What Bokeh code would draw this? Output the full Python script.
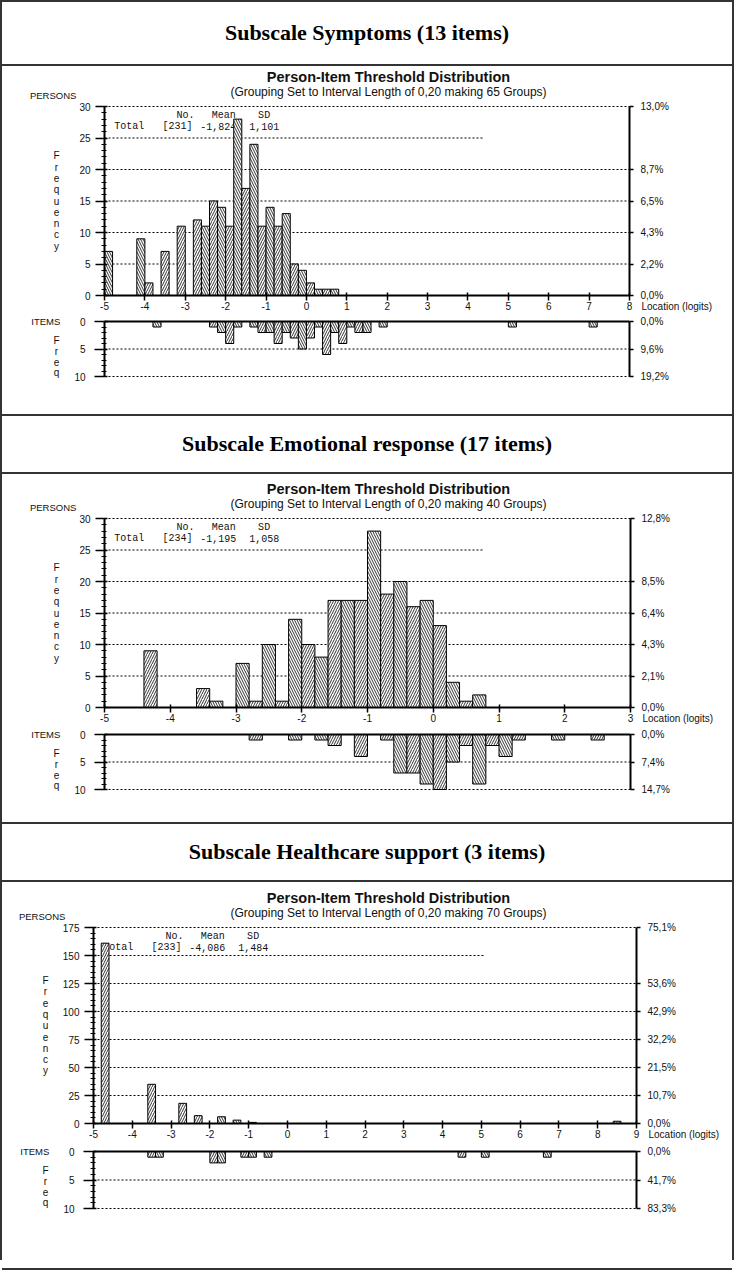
from bokeh.plotting import figure
from bokeh.models import Range1d, LinearAxis, FixedTicker, SingleIntervalTicker, Label, ColumnDataSource, Div
from bokeh.layouts import column, row
from bokeh.core.properties import value, field
from bokeh.embed import file_html
from bokeh.resources import INLINE

# ---------------- data ----------------
BIN_WIDTH = 0.2
item_ticks = [0, 5, 10]
item_grid = [5, 10]

# Subscale Symptoms
sym_title = "Subscale Symptoms (13 items)"
sym_groups = 65
sym_x_ticks = list(range(-5, 9))
sym_person_bins = [-5.0, -4.2, -4.0, -3.6, -3.2, -2.8, -2.6, -2.4, -2.2, -2.0, -1.8, -1.6,
                   -1.4, -1.2, -1.0, -0.8, -0.6, -0.4, -0.2, 0.0, 0.2, 0.4, 0.6]
sym_person_counts = [7, 9, 2, 7, 11, 12, 11, 15, 14, 11, 28, 17, 24, 11, 14, 11, 13, 5, 4, 2, 1, 1, 1]
sym_item_bins = [-3.8, -2.4, -2.2, -2.0, -1.8, -1.4, -1.2, -1.0, -0.8, -0.6, -0.4, -0.2,
                 0.0, 0.2, 0.4, 0.6, 0.8, 1.0, 1.2, 1.4, 1.8, 5.0, 7.0]
sym_item_counts = [1, 1, 2, 4, 1, 1, 2, 2, 4, 2, 3, 5, 3, 1, 6, 2, 4, 1, 2, 2, 1, 1, 1]
sym_pct_ticks = [0, 5, 10, 15, 20, 30]
sym_pct_labels = ["0,0%", "2,2%", "4,3%", "6,5%", "8,7%", "13,0%"]
sym_item_pct = ["0,0%", "9,6%", "19,2%"]
sym_stats = ["[231]", "-1,824", "1,101"]

# Subscale Emotional response
emo_title = "Subscale Emotional response (17 items)"
emo_groups = 40
emo_x_ticks = list(range(-5, 4))
emo_person_bins = [-4.4, -3.6, -3.4, -3.0, -2.8, -2.6, -2.4, -2.2, -2.0, -1.8, -1.6, -1.4,
                   -1.2, -1.0, -0.8, -0.6, -0.4, -0.2, 0.0, 0.2, 0.4, 0.6]
emo_person_counts = [9, 3, 1, 7, 1, 10, 1, 14, 10, 8, 17, 17, 17, 28, 18, 20, 16, 17, 13, 4, 1, 2]
emo_item_bins = [-2.8, -2.2, -1.8, -1.6, -1.2, -0.8, -0.6, -0.4, -0.2, 0.0, 0.2, 0.4,
                 0.6, 0.8, 1.0, 1.2, 1.8, 2.4]
emo_item_counts = [1, 1, 1, 2, 4, 1, 7, 7, 9, 10, 5, 2, 9, 2, 4, 1, 1, 1]
emo_pct_ticks = [0, 5, 10, 15, 20, 30]
emo_pct_labels = ["0,0%", "2,1%", "4,3%", "6,4%", "8,5%", "12,8%"]
emo_item_pct = ["0,0%", "7,4%", "14,7%"]
emo_stats = ["[234]", "-1,195", "1,058"]

# Subscale Healthcare support
hc_title = "Subscale Healthcare support (3 items)"
hc_groups = 70
hc_x_ticks = list(range(-5, 10))
hc_person_bins = [-4.8, -3.6, -2.8, -2.4, -1.8, -1.4, -1.0, 8.4]
hc_person_counts = [161, 35, 18, 7, 6, 3, 1, 2]
hc_item_bins = [-3.6, -3.4, -2.0, -1.8, -1.2, -1.0, -0.6, 4.4, 5.0, 6.6]
hc_item_counts = [1, 1, 2, 2, 1, 1, 1, 1, 1, 1]
hc_pct_ticks = [0, 25, 50, 75, 100, 125, 175]
hc_pct_labels = ["0,0%", "10,7%", "21,5%", "32,2%", "42,9%", "53,6%", "75,1%"]
hc_item_pct = ["0,0%", "41,7%", "83,3%"]
hc_stats = ["[233]", "-4,086", "1,484"]

# ---------------- layout / style ----------------
W = 730
SX = 0.981
FONT = "Liberation Sans"
INK = "#111111"

panels = [
    dict(title=sym_title, groups=sym_groups, xr=(-5, 8), xt=sym_x_ticks, ymax=30, step=5,
         grid=[5, 10, 15, 20, 30], short=25, short_px=386,
         pb=sym_person_bins, pc=sym_person_counts, ib=sym_item_bins, ic=sym_item_counts,
         pt=sym_pct_ticks, pl=sym_pct_labels, ipl=sym_item_pct, stats=sym_stats,
         FL=102, FR=103, H=348, T=40, B=229, IT=255, IB=310),
    dict(title=emo_title, groups=emo_groups, xr=(-5, 3), xt=emo_x_ticks, ymax=30, step=5,
         grid=[5, 10, 15, 20, 30], short=25, short_px=386,
         pb=emo_person_bins, pc=emo_person_counts, ib=emo_item_bins, ic=emo_item_counts,
         pt=emo_pct_ticks, pl=emo_pct_labels, ipl=emo_item_pct, stats=emo_stats,
         FL=102, FR=102, H=348, T=44, B=233, IT=260, IB=315),
    dict(title=hc_title, groups=hc_groups, xr=(-5, 9), xt=hc_x_ticks, ymax=175, step=25,
         grid=[25, 50, 75, 100, 125, 175], short=150, short_px=398,
         pb=hc_person_bins, pc=hc_person_counts, ib=hc_item_bins, ic=hc_item_counts,
         pt=hc_pct_ticks, pl=hc_pct_labels, ipl=hc_item_pct, stats=hc_stats,
         FL=91, FR=96, H=376, T=45, B=241, IT=269, IB=326),
]


def style_axis(ax, tick_out, tick_in, standoff, minor=True):
    ax.axis_line_color = "black"
    ax.axis_line_width = 2
    ax.major_tick_line_color = "black"
    ax.major_tick_line_width = 1.5
    ax.major_tick_out = tick_out
    ax.major_tick_in = tick_in
    ax.major_label_standoff = standoff
    ax.major_label_text_font = FONT
    ax.major_label_text_font_size = "10px"
    ax.major_label_text_color = INK
    if minor:
        ax.minor_tick_line_color = "black"
        ax.minor_tick_out = 3
        ax.minor_tick_in = 2
        ax.minor_tick_line_width = 1
    else:
        ax.minor_tick_line_color = None


def lab(fig, x, y, text, size="10px", align="left", style="normal", font=FONT):
    fig.add_layout(Label(x=x, y=y, text=text, text_font=font, text_font_size=size,
                         text_align=align, text_baseline="middle", text_font_style=style,
                         text_color=INK))


def hatch_for(bins, x0):
    return ["\\" if int(round((b - x0) / BIN_WIDTH)) % 2 == 0 else "/" for b in bins]


def build(c):
    x0, x1 = c["xr"]
    FL, FR, Hc = c["FL"], c["FR"], c["H"]
    T, B, IT, IB = c["T"], c["B"], c["IT"], c["IB"]
    FW = W - FL - FR
    ymax = c["ymax"]
    sx = (x1 - x0) / FW
    sy = ymax / (B - T)
    syi = 10 / (IB - IT)

    def X(px):  # px from cell left
        return x0 + (px - FL) * sx

    def Y(px):  # px from cell top, persons scale
        return ymax - (px - T) * sy

    p = figure(width=W, height=Hc,
               x_range=Range1d(X(0), X(W)), y_range=Range1d(Y(Hc), Y(0)),
               x_axis_location=None, y_axis_location=None,
               output_backend="svg", toolbar_location=None, tools="",
               min_border=0, outline_line_color=None,
               background_fill_color="white", border_fill_color="white")
    p.extra_y_ranges = {"items": Range1d(start=10 + (Hc - IB) * syi, end=-IT * syi)}
    p.grid.visible = False

    # ---- persons axes ----
    la = LinearAxis(fixed_location=x0, bounds=(0, ymax),
                    ticker=SingleIntervalTicker(interval=c["step"], num_minor_ticks=5))
    style_axis(la, 9, 3, 5, minor=True)
    p.add_layout(la, "left")
    ra = LinearAxis(fixed_location=x1, bounds=(0, ymax), ticker=FixedTicker(ticks=c["pt"]),
                    major_label_overrides={t: l for t, l in zip(c["pt"], c["pl"])})
    style_axis(ra, 4, 0, 7, minor=False)
    p.add_layout(ra, "right")
    xa = LinearAxis(fixed_location=0, bounds=(x0, x1), ticker=FixedTicker(ticks=c["xt"]),
                    major_label_overrides={t: str(t) for t in c["xt"]})
    style_axis(xa, 5, 3, 1, minor=False)
    p.add_layout(xa, "below")

    # ---- items axes ----
    ila = LinearAxis(y_range_name="items", fixed_location=x0, bounds=(0, 10),
                     ticker=SingleIntervalTicker(interval=5, num_minor_ticks=5))
    style_axis(ila, 10, 3, 9, minor=True)
    p.add_layout(ila, "left")
    ira = LinearAxis(y_range_name="items", fixed_location=x1, bounds=(0, 10),
                     ticker=FixedTicker(ticks=item_ticks),
                     major_label_overrides={t: l for t, l in zip(item_ticks, c["ipl"])})
    style_axis(ira, 4, 0, 7, minor=False)
    p.add_layout(ira, "right")

    # ---- dashed grid lines ----
    g = c["grid"]
    p.segment(x0=[x0] * len(g), y0=g, x1=[x1] * len(g), y1=g,
              line_color="black", line_dash="2 2", line_width=1)
    p.segment(x0=[x0], y0=[c["short"]], x1=[x0 + c["short_px"] * SX * sx], y1=[c["short"]],
              line_color="black", line_dash="2 2", line_width=1)
    p.segment(x0=[x0] * len(item_grid), y0=item_grid, x1=[x1] * len(item_grid), y1=item_grid,
              y_range_name="items", line_color="black", line_dash="2 2", line_width=1)

    # ---- summary box (monospace) ----
    hx = [73.3, 109.3, 156.6]
    tx = [10, 59, 97.6, 147.6]
    p.text(x=[X(FL + v * SX) for v in hx], y=[Y(T + 9)] * 3, text=["No.", "Mean", "SD"],
           text_font=value("Liberation Mono"), text_font_size="10px", text_baseline="middle",
           text_color=INK)
    p.text(x=[X(FL + v * SX) for v in tx], y=[Y(T + 19.5)] * 4,
           text=["Total"] + c["stats"],
           text_font=value("Liberation Mono"), text_font_size="10px", text_baseline="middle",
           text_color=INK)

    # ---- persons bars ----
    src = ColumnDataSource(dict(left=c["pb"], right=[b + BIN_WIDTH for b in c["pb"]],
                                top=c["pc"], hatch=hatch_for(c["pb"], x0)))
    p.quad(left="left", right="right", top="top", bottom=0, source=src, fill_color="white",
           line_color="black", line_width=1, hatch_pattern=field("hatch"), hatch_color="black",
           hatch_scale=5, hatch_weight=0.8)

    # ---- items bars ----
    isrc = ColumnDataSource(dict(left=c["ib"], right=[b + BIN_WIDTH for b in c["ib"]],
                                 cnt=c["ic"], hatch=hatch_for(c["ib"], x0)))
    p.quad(left="left", right="right", top=0, bottom="cnt", source=isrc, y_range_name="items",
           fill_color="white", line_color="black", line_width=1, hatch_pattern=field("hatch"),
           hatch_color="black", hatch_scale=5, hatch_weight=0.8)
    p.segment(x0=[x0], y0=[0], x1=[x1], y1=[0], y_range_name="items",
              line_color="black", line_width=2)

    # ---- texts ----
    lab(p, X(386), Y(T - 30), "Person-Item Threshold Distribution", size="14.5px",
        align="center", style="bold")
    lab(p, X(386), Y(T - 15),
        f"(Grouping Set to Interval Length of 0,20 making {c['groups']} Groups)",
        size="12px", align="center")
    lab(p, X(FL - 76 * SX), Y(T - 11), "PERSONS", size="9.5px")
    mid = (T + B) / 2
    for i, ch in enumerate("Frequency"):
        lab(p, X(FL - 49 * SX), Y(mid + (i - 4) * 11.3), ch, size="10px", align="center")
    lab(p, X(W - FR + 12), Y(B + 11), "Location (logits)", size="10px")
    lab(p, X(FL - 45 * SX), Y(IT), "ITEMS", size="9.5px", align="right")
    for i, ch in enumerate("Freq"):
        lab(p, X(FL - 49 * SX), Y(IT + 19 + i * 10.5), ch, size="10px", align="center")
    return p


def title_div(text, h):
    html = (f'<div style="box-sizing:border-box;width:{W}px;height:{h}px;border-top:2px solid #333;'
            f'border-bottom:2px solid #333;display:flex;align-items:center;justify-content:center;'
            f"font-family:'Liberation Serif',serif;font-weight:bold;font-size:22px;color:#000;"
            f'background:#fff">{text}</div>')
    return Div(text=html, width=W, height=h, margin=0)


title_heights = [66, 60, 60]
children = []
for c, th in zip(panels, title_heights):
    children.append(title_div(c["title"], th))
    children.append(build(c))
children.append(Div(text=f'<div style="width:{W}px;height:2px;background:#333"></div>',
                    width=W, height=2, margin=0))

H = sum(title_heights) + sum(c["H"] for c in panels) + 2


def strip():
    return Div(text=f'<div style="width:2px;height:{H}px;background:#333"></div>',
               width=2, height=H, margin=0)


layout = row(strip(), column(children, spacing=0), strip(), spacing=0)

open("out.html", "w").write(file_html(layout, INLINE, "Person-Item Threshold Distribution"))
